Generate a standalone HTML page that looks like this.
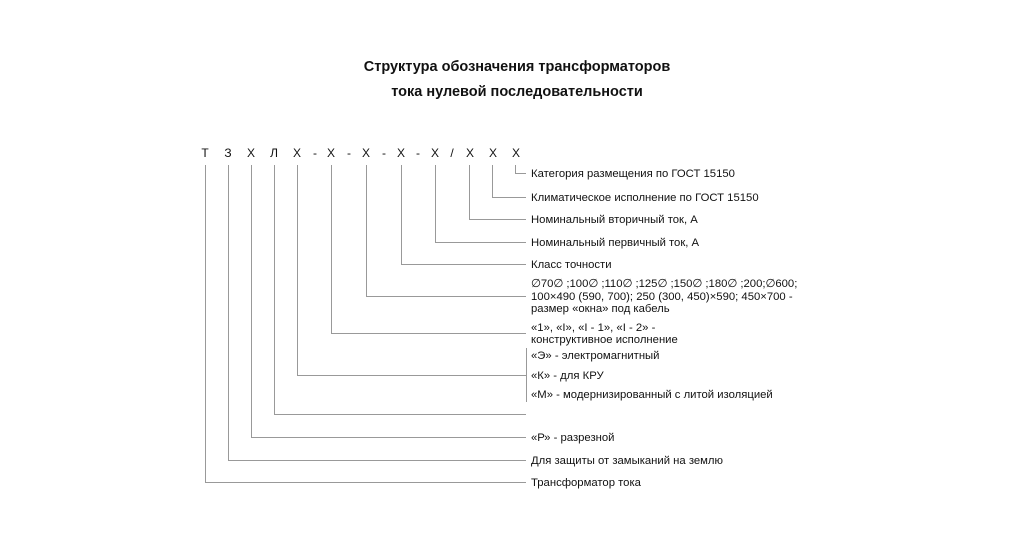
<!DOCTYPE html>
<html><head><meta charset="utf-8"><style>
html,body{margin:0;padding:0;background:#fff;}
svg{display:block;}
text{font-family:"Liberation Sans",Arial,sans-serif;fill:#111;}
.l{font-size:11.3px;}
.c{font-size:12px;}
</style></head><body>
<svg width="1024" height="536" viewBox="0 0 1024 536" xmlns="http://www.w3.org/2000/svg">
<text x="517" y="71" text-anchor="middle" font-size="14.5" font-weight="bold">Структура обозначения трансформаторов</text>
<text x="517" y="96" text-anchor="middle" font-size="14.5" font-weight="bold">тока нулевой последовательности</text>
<g class="c" text-anchor="middle">
<text x="205" y="157">Т</text><text x="228" y="157">З</text><text x="251" y="157">Х</text><text x="274" y="157">Л</text>
<text x="297" y="157">Х</text><text x="315" y="157">-</text><text x="331" y="157">Х</text><text x="349" y="157">-</text>
<text x="366" y="157">Х</text><text x="384" y="157">-</text><text x="401" y="157">Х</text><text x="418" y="157">-</text>
<text x="435" y="157">Х</text><text x="452" y="157">/</text><text x="470" y="157">Х</text><text x="493" y="157">Х</text><text x="516" y="157">Х</text>
</g>
<g stroke="#999" stroke-width="1" fill="none">
<polyline points="515.5,165 515.5,173.5 526,173.5"/>
<polyline points="492.5,165 492.5,197.5 526,197.5"/>
<polyline points="469.5,165 469.5,219.5 526,219.5"/>
<polyline points="435.5,165 435.5,242.5 526,242.5"/>
<polyline points="401.5,165 401.5,264.5 526,264.5"/>
<polyline points="366.5,165 366.5,296.5 526,296.5"/>
<polyline points="331.5,165 331.5,333.5 526,333.5"/>
<polyline points="297.5,165 297.5,375.5 526,375.5"/>
<polyline points="526.5,348 526.5,402"/>
<polyline points="274.5,165 274.5,414.5 526,414.5"/>
<polyline points="251.5,165 251.5,437.5 526,437.5"/>
<polyline points="228.5,165 228.5,460.5 526,460.5"/>
<polyline points="205.5,165 205.5,482.5 526,482.5"/>
</g>
<g class="l">
<text x="531" y="177">Категория размещения по ГОСТ 15150</text>
<text x="531" y="201">Климатическое исполнение по ГОСТ 15150</text>
<text x="531" y="223">Номинальный вторичный ток, А</text>
<text x="531" y="246">Номинальный первичный ток, А</text>
<text x="531" y="268">Класс точности</text>
<text x="531" y="287">∅70∅ ;100∅ ;110∅ ;125∅ ;150∅ ;180∅ ;200;∅600;</text>
<text x="531" y="300">100×490 (590, 700); 250 (300, 450)×590; 450×700 -</text>
<text x="531" y="312">размер «окна» под кабель</text>
<text x="531" y="331">«1», «I», «I - 1», «I - 2» -</text>
<text x="531" y="343">конструктивное исполнение</text>
<text x="531" y="359">«Э» - электромагнитный</text>
<text x="531" y="379">«К» - для КРУ</text>
<text x="531" y="398">«М» - модернизированный с литой изоляцией</text>
<text x="531" y="441">«Р» - разрезной</text>
<text x="531" y="464">Для защиты от замыканий на землю</text>
<text x="531" y="486">Трансформатор тока</text>
</g>
</svg>
</body></html>
